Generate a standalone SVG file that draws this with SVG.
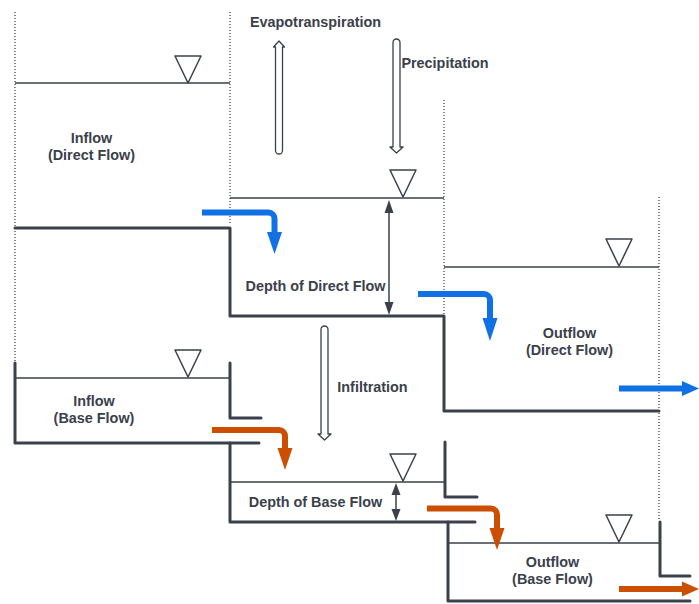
<svg xmlns="http://www.w3.org/2000/svg" width="699" height="604" viewBox="0 0 699 604">
<style>
.dot{stroke:#5a606a;stroke-width:1.5;stroke-dasharray:1 2;fill:none}
.wall{stroke:#3a414a;stroke-width:3;fill:none;stroke-linejoin:round;stroke-linecap:round}
.water{stroke:#3a414a;stroke-width:1.5;fill:none}
.tri{stroke:#3a414a;stroke-width:1.5;fill:#fff;stroke-linejoin:round}
.lbl{font-family:"Liberation Sans",Arial,sans-serif;font-weight:bold;font-size:14.4px;fill:#3a414a;text-anchor:middle}
.hollow{stroke:#3a414a;stroke-width:1.3;fill:#fff;stroke-linejoin:round}
.dim{stroke:#3a414a;stroke-width:1.5;fill:none}
.dimhead{fill:#3a414a}
.blue{stroke:#1071e5;stroke-width:6;fill:none}
.blueh{fill:#1071e5}
.org{stroke:#cc4e00;stroke-width:6;fill:none}
.orgh{fill:#cc4e00}
</style>
<g id="guides">
<line class="dot" x1="15" y1="12" x2="15" y2="363"/>
<line class="dot" x1="230" y1="12" x2="230" y2="225"/>
<line class="dot" x1="444" y1="100" x2="444" y2="315"/>
<line class="dot" x1="659" y1="197" x2="659" y2="520"/>
</g>
<g id="inflow-direct">
<line class="water" x1="15" y1="83" x2="230" y2="83"/>
<path class="tri" d="M175,56 H201 L188,83 Z"/>
<path class="wall" d="M15,228 H230 V316 H444 V411 H659"/>
<text class="lbl" x="91.5" y="143">Inflow</text>
<text class="lbl" x="91.5" y="160">(Direct Flow)</text>
</g>
<g id="depth-direct">
<line class="water" x1="230" y1="198" x2="444" y2="198"/>
<path class="tri" d="M390,170 H416 L403,197 Z"/>
<text class="lbl" x="315.5" y="291">Depth of Direct Flow</text>
</g>
<g id="outflow-direct">
<line class="water" x1="444" y1="267" x2="659" y2="267"/>
<path class="tri" d="M606,239 H632 L619,266 Z"/>
<text class="lbl" x="569.5" y="338">Outflow</text>
<text class="lbl" x="569.5" y="355">(Direct Flow)</text>
</g>
<g id="inflow-base">
<path class="wall" d="M15,363 V443 H259"/>
<path class="wall" d="M230,363 V418 H261"/>
<line class="water" x1="15" y1="378" x2="230" y2="378"/>
<path class="tri" d="M175,350 H201 L188,377 Z"/>
<text class="lbl" x="94" y="406">Inflow</text>
<text class="lbl" x="94" y="423">(Base Flow)</text>
</g>
<g id="depth-base">
<path class="wall" d="M230,443 V522 H475"/>
<path class="wall" d="M445,442 V497 H477"/>
<line class="water" x1="230" y1="482" x2="445" y2="482"/>
<path class="tri" d="M390,454 H416 L403,481 Z"/>
<text class="lbl" x="315.5" y="507">Depth of Base Flow</text>
</g>
<g id="outflow-base">
<path class="wall" d="M448,522 V601 H690"/>
<path class="wall" d="M660,522 V576 H690"/>
<line class="water" x1="448" y1="543" x2="660" y2="543"/>
<path class="tri" d="M606,515 H632 L619,542 Z"/>
<text class="lbl" x="552.5" y="567">Outflow</text>
<text class="lbl" x="552.5" y="584">(Base Flow)</text>
</g>
<g id="evapotranspiration">
<path class="hollow" d="M275.5,150.5 V47 H273.5 L279,41 L284.5,47 H282.5 V150.5 A3.5,3.5 0 0 1 275.5,150.5 Z"/>
<text class="lbl" x="315.5" y="27">Evapotranspiration</text>
</g>
<g id="precipitation">
<path class="hollow" d="M393,42.5 A3.5,3.5 0 0 1 400,42.5 V147 H403 L396.5,153 L390,147 H393 Z"/>
<text class="lbl" x="445" y="68">Precipitation</text>
</g>
<g id="infiltration">
<path class="hollow" d="M321,329.5 A3.5,3.5 0 0 1 328,329.5 V434 H331 L324.5,440 L318,434 H321 Z"/>
<text class="lbl" x="372.5" y="392">Infiltration</text>
</g>
<g id="connectors">
<line class="dim" x1="389" y1="208" x2="389" y2="308"/>
<path class="dimhead" d="M389,200 L393.5,213 H384.5 Z"/>
<path class="dimhead" d="M389,315 L393.5,302 H384.5 Z"/>
<line class="dim" x1="396" y1="490" x2="396" y2="514"/>
<path class="dimhead" d="M396,483 L400.5,495 H391.5 Z"/>
<path class="dimhead" d="M396,521 L400.5,509 H391.5 Z"/>
<path class="blue" d="M202,212.5 H268.5 A6,6 0 0 1 274.5,218.5 V234"/>
<path class="blueh" d="M267,232 H282 L274.5,254 Z"/>
<path class="blue" d="M418,294 H484 A6,6 0 0 1 490,300 V320"/>
<path class="blueh" d="M482.5,318 H497.5 L490,341 Z"/>
<path class="blue" d="M619,388.5 H684"/>
<path class="blueh" d="M682,381 L699,388.5 L682,396 Z"/>
<path class="org" d="M212,430 H279 A6,6 0 0 1 285,436 V450"/>
<path class="orgh" d="M277.5,448 H292.5 L285,470 Z"/>
<path class="org" d="M427,508.5 H491 A6,6 0 0 1 497,514.5 V530"/>
<path class="orgh" d="M489.5,528 H504.5 L497,550 Z"/>
<path class="org" d="M619,589 H684"/>
<path class="orgh" d="M682,581.5 L699,589 L682,596.5 Z"/>
</g>
</svg>
